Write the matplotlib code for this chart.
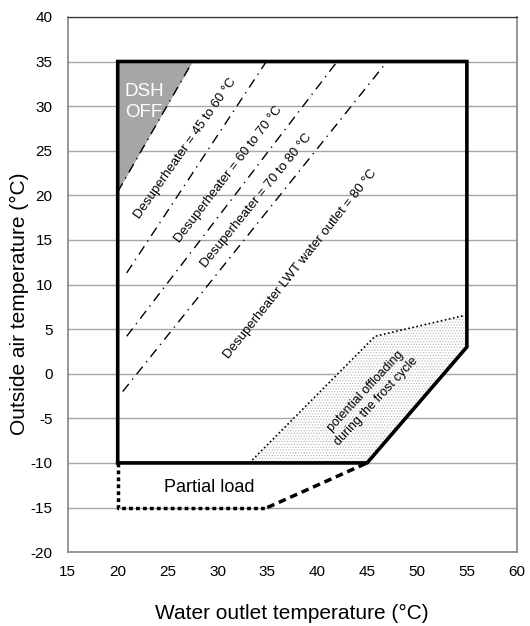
"""
Chiller operating envelope with desuperheater limits
Saves out.png
"""

import matplotlib.pyplot as plt
from matplotlib.patches import Polygon

plt.rcParams['font.family'] = ['Liberation Sans', 'DejaVu Sans']
plt.rcParams['hatch.linewidth'] = 0.6
plt.rcParams['axes.unicode_minus'] = False

# operating envelope: water outlet temp (°C) vs outside air temp (°C)
env_x = [20, 20, 55, 55, 45, 20]
env_y = [-10, 35, 35, 3, -10, -10]

# partial load extension
part_dot_x = [20, 20, 35]
part_dot_y = [-10, -15, -15]
part_dash_x = [35, 45]
part_dash_y = [-15, -10]

# DSH OFF zone
dsh_off_x = [20, 20, 27.5]
dsh_off_y = [20.4, 35, 35]

# desuperheater limit lines
dsh_lines_x = [[20, 27.5], [20.9, 34.9], [20.9, 42.0], [20.5, 47.0]]
dsh_lines_y = [[20.4, 35], [11.3, 35], [4.2, 35], [-2.0, 35]]
dsh_labels = ['Desuperheater = 45 to 60 °C',
              'Desuperheater = 60 to 70 °C',
              'Desuperheater = 70 to 80 °C',
              'Desuperheater LWT water outlet = 80 °C']
dsh_label_x = [26.8, 31.1, 33.9, 38.3]
dsh_label_y = [25.2, 22.3, 19.4, 12.3]
dsh_label_rot = [55, 52.5, 51, 51.5]

# frost cycle offloading zone
frost_x = [33.2, 45.8, 55, 55, 45]
frost_y = [-10, 4.2, 6.6, 3, -10]

x_ticks = [15, 20, 25, 30, 35, 40, 45, 50, 55, 60]
y_ticks = [-20, -15, -10, -5, 0, 5, 10, 15, 20, 25, 30, 35, 40]

fig = plt.figure(figsize=(5.3, 6.26), dpi=100)
ax = fig.add_axes([0.128, 0.118, 0.847, 0.855])

ax.set_xlim(15, 60)
ax.set_ylim(-20, 40)
ax.set_xticks(x_ticks)
ax.set_yticks(y_ticks)
ax.tick_params(length=0, labelsize=11)
ax.tick_params(axis='x', pad=9)
ax.tick_params(axis='y', pad=11)
for s in ax.spines.values():
    s.set_color('#868686'); s.set_linewidth(1.2)
ax.spines['top'].set_color('#333333')
ax.spines['top'].set_linewidth(0.9)
ax.yaxis.grid(True, color='#a6a6a6', lw=1.0)
ax.set_axisbelow(True)

# frost offloading zone (stippled)
ax.add_patch(Polygon(list(zip(frost_x, frost_y)), closed=True, facecolor='white',
                     hatch='......', edgecolor='#bdbdbd', lw=0, zorder=2))
ax.plot(frost_x[:3], frost_y[:3], color='black', lw=1.2, ls=(0, (1, 1.5)), zorder=3)

# DSH OFF zone
ax.add_patch(Polygon(list(zip(dsh_off_x, dsh_off_y)), closed=True,
                     facecolor='#a6a6a6', edgecolor='none', zorder=2))
ax.text(20.7, 30.5, 'DSH\nOFF', color='white', fontsize=13.5, ha='left', va='center',
        linespacing=1.3, zorder=5)

# desuperheater lines + labels
for xs, ys in zip(dsh_lines_x, dsh_lines_y):
    ax.plot(xs, ys, color='black', lw=1.0, ls=(0, (7, 4, 1, 4)), zorder=3)
for lab, lx, ly, rot in zip(dsh_labels, dsh_label_x, dsh_label_y, dsh_label_rot):
    ax.text(lx, ly, lab, fontsize=9.5, rotation=rot, ha='center', va='center',
            rotation_mode='anchor', zorder=5)

ax.text(45.4, -2.5, 'potential offloading\nduring the frost cycle', fontsize=9,
        rotation=47, ha='center', va='center', rotation_mode='anchor',
        linespacing=1.3, zorder=5)

# partial load
ax.plot(part_dot_x, part_dot_y, color='black', lw=2.5, ls=(0, (1.1, 0.9)), zorder=4)
ax.plot(part_dash_x, part_dash_y, color='black', lw=2.5, ls=(0, (2.2, 1.4)), zorder=4)
ax.text(29.2, -12.8, 'Partial load', fontsize=13, ha='center', va='center', zorder=5)

# envelope
ax.plot(env_x, env_y, color='black', lw=2.6, solid_joinstyle='miter', zorder=4)

ax.set_xlabel('Water outlet temperature (°C)', fontsize=15, labelpad=18)
ax.set_ylabel('Outside air temperature (°C)', fontsize=15, labelpad=2)
ax.yaxis.set_label_coords(-0.087, 0.465)

fig.savefig('out.png', dpi=100)
